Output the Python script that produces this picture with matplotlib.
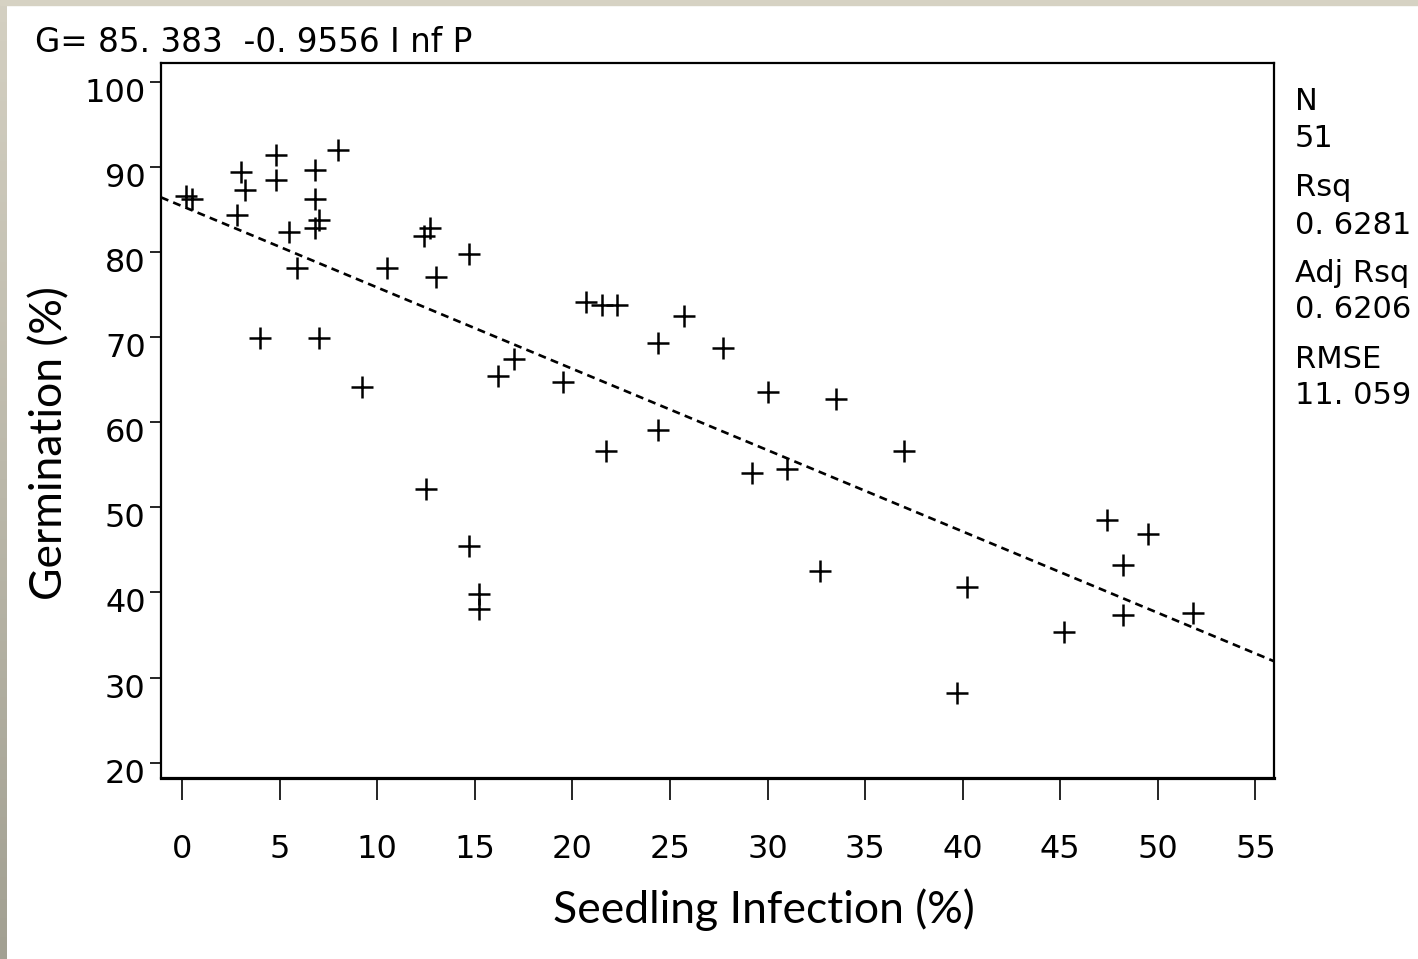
import numpy as np
import matplotlib
matplotlib.use("Agg")
import matplotlib.pyplot as plt
import matplotlib.transforms as mtransforms
from matplotlib.patches import Rectangle

# ---- data ----
infection = [0.2, 0.5, 3.0, 3.2, 2.8, 4.8, 4.8, 6.8, 6.8, 7.0,
             6.8, 8.0, 5.5, 5.9, 4.0, 7.0, 9.2, 10.5, 12.4, 12.7,
             13.0, 12.5, 14.7, 14.7, 15.2, 15.2, 16.2, 17.0, 19.5, 20.7,
             21.5, 22.3, 21.7, 24.4, 24.4, 25.7, 27.7, 29.2, 30.0, 31.0,
             33.5, 32.7, 37.0, 39.7, 40.2, 45.2, 47.4, 48.2, 48.2, 49.5,
             51.8]
germination = [86.6, 86.2, 89.4, 87.3, 84.4, 91.4, 88.5, 89.6, 86.2, 83.8,
               82.8, 92.0, 82.4, 78.1, 69.9, 69.9, 64.1, 78.1, 81.9, 82.8,
               77.1, 52.1, 79.8, 45.4, 39.8, 38.0, 65.4, 67.4, 64.7, 74.1,
               73.8, 73.8, 56.6, 69.3, 59.1, 72.5, 68.7, 54.0, 63.6, 54.5,
               62.7, 42.5, 56.6, 28.2, 40.6, 35.4, 48.5, 43.2, 37.4, 46.9,
               37.6]
intercept = 85.383
slope = -0.9556
x_ticks = [0, 5, 10, 15, 20, 25, 30, 35, 40, 45, 50, 55]
y_ticks = [20, 30, 40, 50, 60, 70, 80, 90, 100]
stat_names = ["N", "Rsq", "Adj Rsq", "RMSE"]
stat_values = ["51", "0. 6281", "0. 6206", "11. 059"]
title_text = "G= 85. 383  -0. 9556 I nf P"
x_label = "Seedling Infection (%)"
y_label = "Germination (%)"

W, H = 1418, 959
fig = plt.figure(figsize=(W / 100, H / 100), dpi=100, facecolor="white")

# decorative slide border (left + top)
fig.patches.append(Rectangle((0, 1 - 5 / H), 1, 5 / H, transform=fig.transFigure,
                             color="#d6d2c3", zorder=0))
bax = fig.add_axes([0, 0, 6 / W, 1])
grad = np.linspace(0, 1, 256)[:, None]
top_c = np.array([212, 208, 194]) / 255
bot_c = np.array([162, 160, 146]) / 255
img = top_c[None, None, :] * (1 - grad[:, :, None]) + bot_c[None, None, :] * grad[:, :, None]
bax.imshow(img, aspect="auto", extent=[0, 1, 0, 1])
bax.axis("off")

L, R, T, B = 161, 1274, 63, 778
ax = fig.add_axes([L / W, 1 - B / H, (R - L) / W, (B - T) / H])

ax.plot(infection, germination, linestyle="none", marker="+", markersize=15.5,
        markeredgewidth=1.8, color="black", zorder=3)

xlim = (-1.08, 55.95)
xs = np.array(xlim)
ax.plot(xs, intercept + slope * xs, color="black", lw=1.9,
        linestyle=(0, (3.0, 2.0)), zorder=2)

ax.set_xlim(*xlim)
ax.set_ylim(18.2, 102.2)

arial = "DejaVu Sans"
ax.set_xticks(x_ticks)
ax.set_yticks(y_ticks)
ax.set_xticklabels([str(v) for v in x_ticks], fontfamily=arial, fontsize=23)
ax.set_yticklabels([str(v) for v in y_ticks], fontfamily=arial, fontsize=23)
ax.tick_params(axis="x", direction="out", length=16, width=1.2, pad=24)
ax.tick_params(axis="y", direction="out", length=8, width=1.2, pad=3)

offset = mtransforms.ScaledTranslation(0, -8 / 100, fig.dpi_scale_trans)
for lab in ax.get_yticklabels():
    lab.set_transform(lab.get_transform() + offset)

for s in ["left", "right", "top"]:
    ax.spines[s].set_linewidth(1.6)
ax.spines["bottom"].set_linewidth(2.3)

calib = "Lato"
ax.set_xlabel(x_label, fontfamily=calib, fontsize=32, va="center")
ax.xaxis.set_label_coords((764 - L) / (R - L), (B - 910) / (B - T))
ax.set_ylabel(y_label, fontfamily=calib, fontsize=32, va="center")
ax.yaxis.set_label_coords((50 - L) / (R - L), (B - 443) / (B - T))

fig.text(35 / W, 1 - 42 / H, title_text, fontfamily=arial, fontsize=23.5,
         ha="left", va="center")

name_y = [102, 188, 273, 359]
for i, (n, v) in enumerate(zip(stat_names, stat_values)):
    fig.text(1295 / W, 1 - name_y[i] / H, n, fontfamily=arial, fontsize=22,
             ha="left", va="center")
    fig.text(1295 / W, 1 - (name_y[i] + 37) / H, v, fontfamily=arial, fontsize=22,
             ha="left", va="center")

fig.savefig("out.png", dpi=100, facecolor="white")
